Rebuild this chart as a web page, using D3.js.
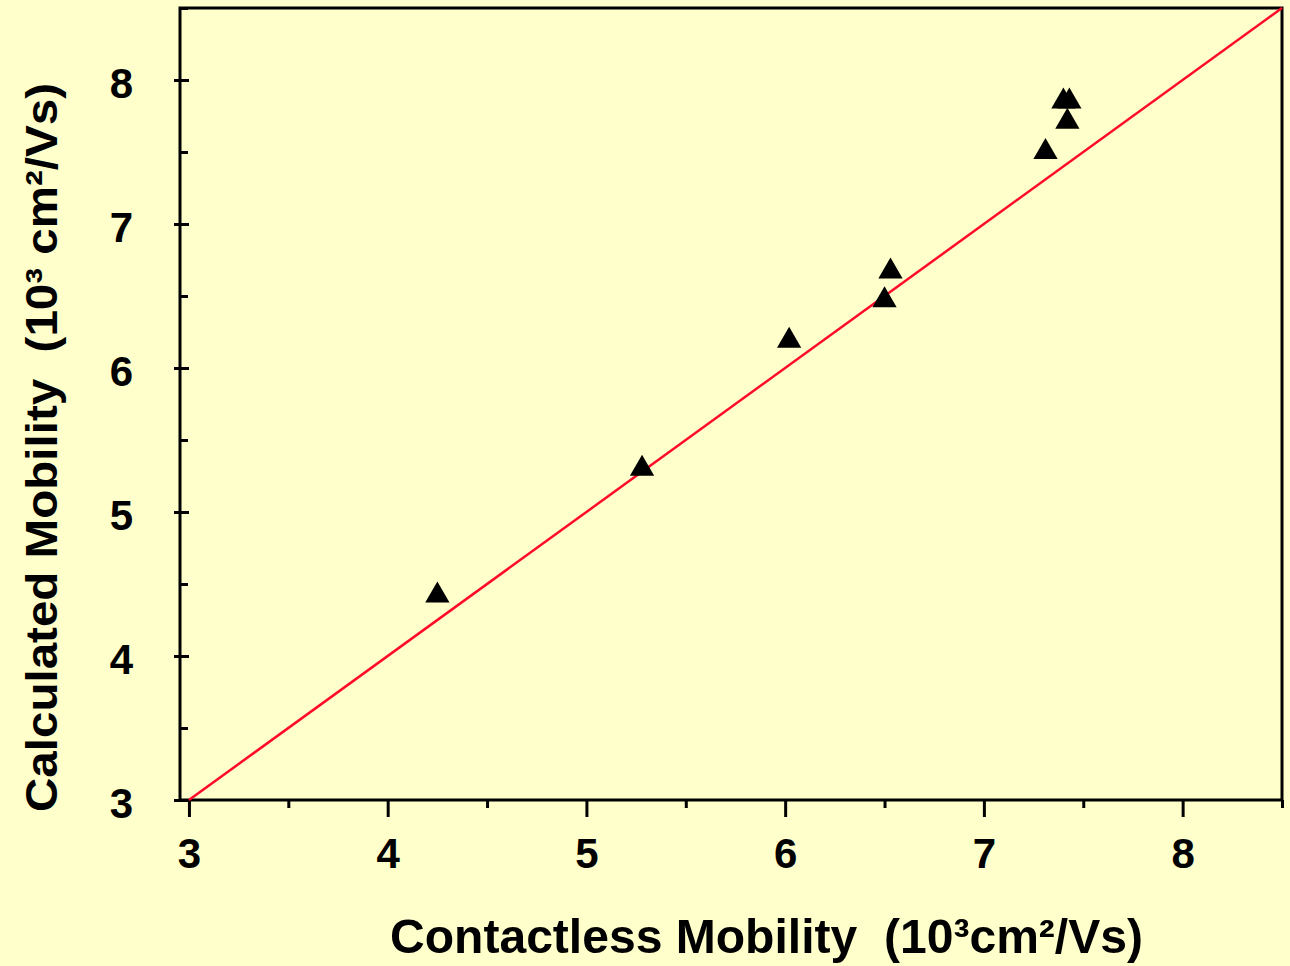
<!DOCTYPE html>
<html>
<head>
<meta charset="utf-8">
<script src="https://cdn.jsdelivr.net/npm/d3@7"></script>
<style>
  html, body { margin: 0; padding: 0; background: #ffffcc; }
  svg { display: block; }
  text { font-family: "Liberation Sans", Arial, sans-serif; font-weight: bold; fill: #000; }
  .title { white-space: pre; }
</style>
</head>
<body>
<svg id="chart" width="1290" height="966"></svg>
<script>
// Contactless vs calculated mobility, in 10^3 cm²/Vs
const contactless = [4.25, 5.28, 6.02, 6.50, 6.53, 7.31, 7.42, 7.40, 7.43];
const calculated  = [4.42, 5.30, 6.19, 6.47, 6.67, 7.50, 7.71, 7.85, 7.85];

const majorTicks = [3, 4, 5, 6, 7, 8];
const minorTicks = [3.5, 4.5, 5.5, 6.5, 7.5, 8.5];
const parityLine = [3, 8.5];

const xTitle = "Contactless Mobility  (10³cm²/Vs)";
const yTitle = "Calculated Mobility  (10³ cm²/Vs)";

const svg = d3.select("#chart");
const plotLeft = 180, plotRight = 1282, plotTop = 8, plotBottom = 800;

const x = d3.scaleLinear().domain([2.955, 8.5]).range([plotLeft, plotRight]);
const y = d3.scaleLinear().domain([3, 8.5]).range([plotBottom, plotTop]);

svg.append("rect").attr("width", 1290).attr("height", 966).attr("fill", "#ffffcc");

// plot frame
svg.append("rect")
  .attr("x", plotLeft).attr("y", plotTop)
  .attr("width", plotRight - plotLeft).attr("height", plotBottom - plotTop)
  .attr("fill", "none").attr("stroke", "#000").attr("stroke-width", 3);

function styleTicks(g) {
  g.select(".domain").remove();
  g.selectAll(".tick line").attr("stroke", "#000").attr("stroke-width", 3);
  g.selectAll(".tick text").remove();
}

// x ticks (outside, below)
svg.append("g").attr("transform", `translate(0,${plotBottom})`)
  .call(d3.axisBottom(x).tickValues(majorTicks).tickSize(17)).call(styleTicks);
svg.append("g").attr("transform", `translate(0,${plotBottom})`)
  .call(d3.axisBottom(x).tickValues(minorTicks).tickSize(8)).call(styleTicks);

// y ticks: majors cross the axis, minors point inward
svg.append("g").attr("transform", `translate(${plotLeft},0)`)
  .call(d3.axisLeft(y).tickValues(majorTicks).tickSize(6)).call(styleTicks);
svg.append("g").attr("transform", `translate(${plotLeft},0)`)
  .call(d3.axisRight(y).tickValues(majorTicks).tickSize(9)).call(styleTicks);
svg.append("g").attr("transform", `translate(${plotLeft},0)`)
  .call(d3.axisRight(y).tickValues(minorTicks).tickSize(8)).call(styleTicks);

// tick labels
const xLab = svg.append("g").attr("transform", `translate(0,${plotBottom + 2})`)
  .call(d3.axisBottom(x).tickValues(majorTicks).tickSize(0).tickPadding(36).tickFormat(d3.format("d")));
xLab.select(".domain").remove();
xLab.selectAll("text").attr("font-size", 42).attr("font-family", "Liberation Sans, Arial, sans-serif").attr("font-weight", "bold");

const yLab = svg.append("g").attr("transform", `translate(${plotLeft},4)`)
  .call(d3.axisLeft(y).tickValues(majorTicks).tickSize(0).tickPadding(47).tickFormat(d3.format("d")));
yLab.select(".domain").remove();
yLab.selectAll("text").attr("font-size", 42).attr("font-family", "Liberation Sans, Arial, sans-serif").attr("font-weight", "bold");

// y = x reference line
svg.append("line")
  .attr("x1", x(parityLine[0])).attr("y1", y(parityLine[0]))
  .attr("x2", x(parityLine[1])).attr("y2", y(parityLine[1]))
  .attr("stroke", "#ff0a2a").attr("stroke-width", 2.5);

// data markers
const tri = d3.symbol().type(d3.symbolTriangle).size(255);
svg.append("g").selectAll("path")
  .data(contactless.map((c, i) => [c, calculated[i]]))
  .join("path")
  .attr("d", tri)
  .attr("transform", d => `translate(${x(d[0])},${y(d[1])})`)
  .attr("fill", "#000");

// axis titles
svg.append("text").attr("class", "title")
  .attr("x", 390).attr("y", 953)
  .attr("font-size", 48)
  .attr("font-family", "Liberation Sans Narrow, Liberation Sans, Arial, sans-serif")
  .attr("textLength", 753).attr("lengthAdjust", "spacingAndGlyphs")
  .text(xTitle);

svg.append("text").attr("class", "title")
  .attr("transform", "translate(57,812) rotate(-90)")
  .attr("font-size", 45)
  .attr("textLength", 729).attr("lengthAdjust", "spacingAndGlyphs")
  .text(yTitle);
</script>
</body>
</html>
